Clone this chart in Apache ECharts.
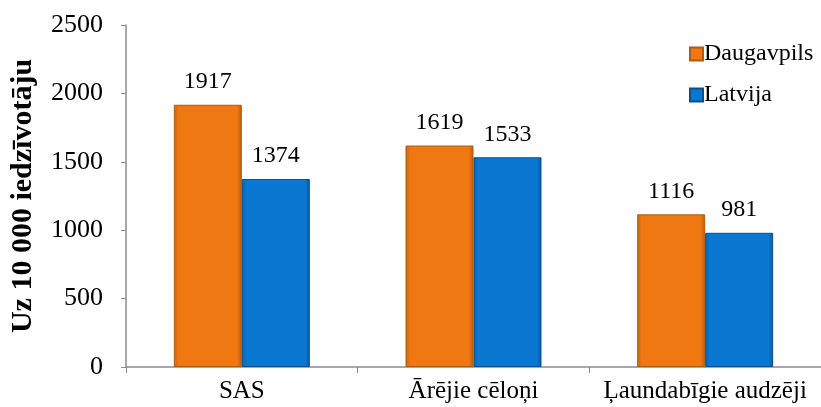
<!DOCTYPE html>
<html>
<head>
<meta charset="utf-8">
<script src="https://cdn.jsdelivr.net/npm/echarts@6/dist/echarts.min.js"></script>
<style>
html,body{margin:0;padding:0;background:#fff;}
#chart{width:821px;height:407px;}
</style>
</head>
<body>
<div id="chart"></div>
<script>
var categories = ['SAS', 'Ārējie cēloņi', 'Ļaundabīgie audzēji'];
var daugavpils = [1917, 1619, 1116];
var latvija = [1374, 1533, 981];
var yTicks = [0, 500, 1000, 1500, 2000, 2500];
var seriesNames = ['Daugavpils', 'Latvija'];

var FONT = '"Liberation Serif", "Times New Roman", serif';

function grad(edge, mid, edge2) {
  return new echarts.graphic.LinearGradient(0, 0, 1, 0, [
    {offset: 0, color: edge},
    {offset: 0.07, color: mid},
    {offset: 0.93, color: mid},
    {offset: 1, color: edge2}
  ]);
}

var chart = echarts.init(document.getElementById('chart'));
chart.setOption({
  animation: false,
  backgroundColor: '#ffffff',
  grid: {left: 123, right: -4, top: 25, bottom: 40, containLabel: false},
  legend: {
    orient: 'vertical',
    left: 684,
    top: 37,
    icon: 'rect',
    itemWidth: 13,
    itemHeight: 13,
    itemGap: 17,
    textStyle: {fontFamily: FONT, fontSize: 24, color: '#000', padding: [0,0,0,-4]},
    data: seriesNames
  },
  xAxis: {
    type: 'category',
    data: categories,
    axisLine: {lineStyle: {color: '#8c8c8c', width: 1.5}},
    axisTick: {show: true, length: 6, lineStyle: {color: '#8c8c8c'}},
    axisLabel: {fontFamily: FONT, fontSize: 25, color: '#000', margin: 12, interval: 0}
  },
  yAxis: {
    type: 'value',
    min: yTicks[0],
    max: yTicks[yTicks.length - 1],
    interval: yTicks[1] - yTicks[0],
    name: 'Uz 10 000 iedzīvotāju',
    nameLocation: 'middle',
    nameGap: 88,
    nameTextStyle: {fontFamily: FONT, fontSize: 30, fontWeight: 'bold', color: '#000'},
    axisLine: {show: true, lineStyle: {color: '#8c8c8c', width: 1.5}},
    axisTick: {show: true, length: 5, lineStyle: {color: '#8c8c8c'}},
    axisLabel: {fontFamily: FONT, fontSize: 26, color: '#000', margin: 23, formatter: function (v) { return String(v); }},
    splitLine: {show: false}
  },
  series: [
    {
      name: seriesNames[0],
      type: 'bar',
      data: daugavpils,
      barWidth: 68,
      barGap: '0%',
      itemStyle: {color: grad('#c9660f', '#f07812', '#b8600d'), borderColor: '#b35a0c', borderWidth: 1},
      label: {show: true, position: 'top', distance: 11, fontFamily: FONT, fontSize: 24, color: '#000'}
    },
    {
      name: seriesNames[1],
      type: 'bar',
      data: latvija,
      barWidth: 68,
      barGap: '0%',
      itemStyle: {color: grad('#0a64ae', '#0a78d0', '#085a9c'), borderColor: '#08508c', borderWidth: 1},
      label: {show: true, position: 'top', distance: 11, fontFamily: FONT, fontSize: 24, color: '#000'}
    }
  ]
});
</script>
</body>
</html>
